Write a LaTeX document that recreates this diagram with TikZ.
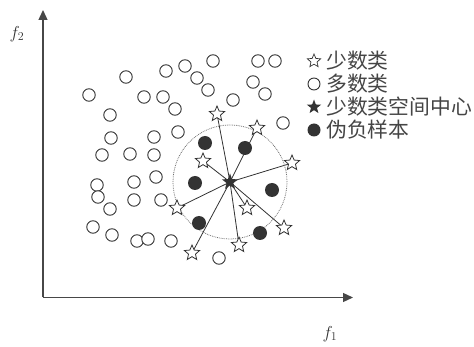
\documentclass[tikz,border=0pt]{standalone}
\usepackage{fontspec}
\newfontfamily\cjk{Noto Sans CJK SC}
\usetikzlibrary{shapes.geometric,arrows.meta,backgrounds}
\definecolor{ink}{HTML}{333333}
\definecolor{txt}{HTML}{454545}
\tikzset{
  opc/.style={circle,draw=ink,line width=0.9pt,fill=white,minimum size=12.5pt,inner sep=0pt},
  fc/.style={circle,fill=ink,minimum size=14pt,inner sep=0pt},
  ostar/.style={star,star points=5,star point ratio=2.2,draw=ink,line width=0.8pt,fill=white,minimum size=16pt,inner sep=0pt},
  fstar/.style={star,star points=5,star point ratio=2.4,fill=ink,minimum size=17pt,inner sep=0pt},
  ray/.style={draw=ink,line width=0.8pt},
  axis/.style={draw=ink!90,line width=1.3pt,-{Triangle[length=10pt,width=9pt]}},
  legtxt/.style={anchor=west,inner sep=0pt,font=\cjk\fontsize{20.8}{21}\selectfont,text=txt},
}
\begin{document}
\begin{tikzpicture}[x=1pt,y=-1pt]
\useasboundingbox (0,0) rectangle (474,347);
% axes
\coordinate (o) at (43,297.5);
\coordinate (yt) at (43,10);
\coordinate (xt) at (353,297.5);
\draw[axis] (o) -- (yt);
\draw[axis] (o) -- (xt);
\node[font=\fontsize{18}{18}\selectfont,text=ink] (f2) at (17,34) {$f_2$};
\node[font=\fontsize{18}{18}\selectfont,text=ink] (f1) at (330,334) {$f_1$};
% dotted region
\node[circle,draw=ink!70,densely dotted,line width=0.8pt,minimum size=114pt,inner sep=0pt] (reg) at (230,182) {};
% majority class
\foreach \x/\y [count=\i] in {213/61,258/61,275/61,185/66,166/71,126/77,197/78,253/82,208/90,265/94,
  89/95,144/97,163/97,233/100,175/109,110/115,283/123,178/132,111/138,154/137,
  102/155,130/154,154/155,156/177,134/182,97/185,98/197,134/200,161/200,110/209,
  93/227,112/235,137/241,148/239,171/241,219/258}
  \node[opc] (m\i) at (\x,\y) {};
% pseudo negative samples
\foreach \x/\y [count=\i] in {205/143,245/148,195/183,272/190,199/223,260/233}
  \node[fc] (p\i) at (\x,\y) {};
% minority stars
\foreach \x/\y [count=\i] in {217/114,257/128,203/161,292/163,177/208,247/208,284/228,239/245,192/253}
  \node[ostar] (s\i) at (\x,\y) {};
\node[fstar] (c) at (230,182) {};
\begin{scope}[on background layer]
\foreach \i in {1,...,9}
  \draw[ray] (c.center) -- (s\i.center);
\end{scope}
% legend
\node[ostar,minimum size=14pt,line width=0.7pt] (l1) at (314,61) {};
\node[opc,minimum size=12pt] (l2) at (314,84) {};
\node[fstar,minimum size=15pt] (l3) at (314,107) {};
\node[fc,minimum size=13pt] (l4) at (314,130) {};
\node[legtxt] (t1) at (326,61) {少数类};
\node[legtxt] (t2) at (326,84) {多数类};
\node[legtxt] (t3) at (326,107) {少数类空间中心};
\node[legtxt] (t4) at (326,130) {伪负样本};
\end{tikzpicture}
\end{document}
